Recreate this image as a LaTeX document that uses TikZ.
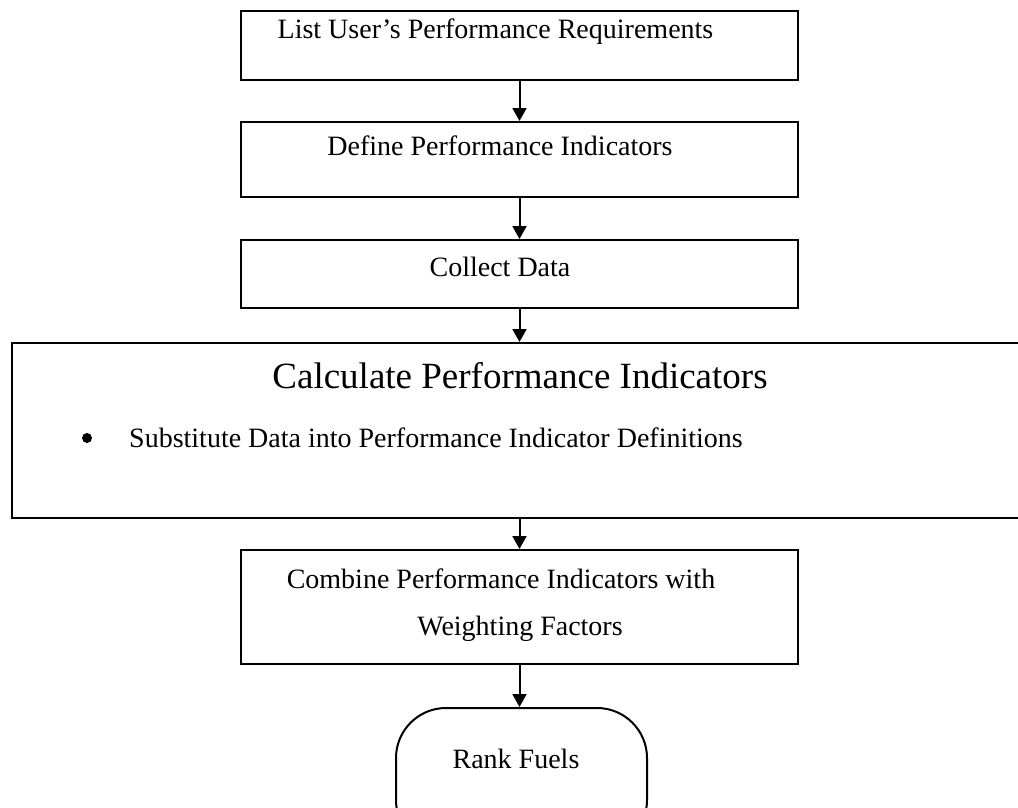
\documentclass[tikz,border=0pt]{standalone}
\usepackage{fontspec}
\setmainfont{Liberation Serif}
\usetikzlibrary{arrows.meta}
\begin{document}
\begin{tikzpicture}[x=1pt,y=-1pt,
  box/.style={draw,line width=2pt,rectangle,inner sep=0pt},
  termbox/.style={draw,line width=2pt,rectangle,rounded corners=50pt,inner sep=0pt},
  txt/.style={inner sep=0pt,anchor=base,font=\fontsize{28}{34}\selectfont},
  titletxt/.style={inner sep=0pt,anchor=base,font=\fontsize{37}{44}\selectfont},
  bulletdot/.style={circle,fill,inner sep=0pt,minimum size=10pt},
  flow/.style={line width=2pt,-{Triangle[width=14pt,length=13pt]}}]
\useasboundingbox (0,0) rectangle (1018,808);

% process boxes
\node[box,minimum width=557pt,minimum height=69pt] (b1) at (519.5,45.5) {};
\node[box,minimum width=557pt,minimum height=75pt] (b2) at (519.5,159.5) {};
\node[box,minimum width=557pt,minimum height=68pt] (b3) at (519.5,274) {};
\node[box,minimum width=1018pt,minimum height=175pt] (calc) at (521,430.5) {};
\node[box,minimum width=557pt,minimum height=114pt] (b5) at (519.5,607) {};
\node[termbox,minimum width=251pt,minimum height=142pt] (rank) at (521.5,779) {};

% box texts
\node[txt] (t1) at (495.5,39) {List User’s Performance Requirements};
\node[txt] (t2) at (500,155) {Define Performance Indicators};
\node[txt] (t3) at (500,276) {Collect Data};
\node[titletxt] (tcalc) at (520,388) {Calculate Performance Indicators};
\node[bulletdot] (bul) at (87,438) {};
\node[txt,anchor=base west] (tsub) at (129,447) {Substitute Data into Performance Indicator Definitions};
\node[txt] (t5a) at (501,588) {Combine Performance Indicators with};
\node[txt] (t5b) at (520,635) {Weighting Factors};
\node[txt] (trank) at (516,768) {Rank Fuels};

% connectors
\draw[flow] (b1.south) -- (b2.north);
\draw[flow] (b2.south) -- (b3.north);
\draw[flow] (b3.south) -- (b3.south |- calc.north);
\draw[flow] (b5.north |- calc.south) -- (b5.north);
\draw[flow] (b5.south) -- (b5.south |- rank.north);
\end{tikzpicture}
\end{document}
